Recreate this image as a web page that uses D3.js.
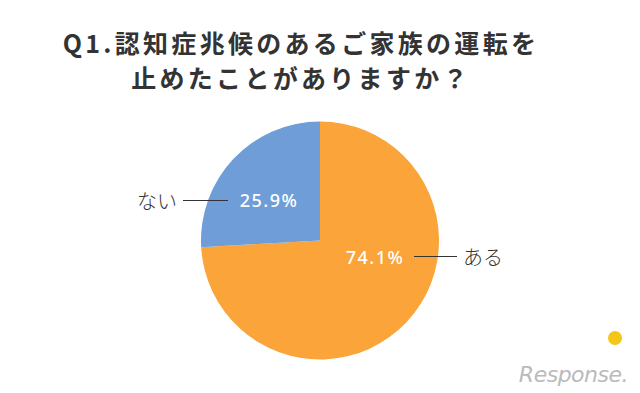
<!DOCTYPE html>
<html><head><meta charset="utf-8">
<script src="https://cdn.jsdelivr.net/npm/d3@7"></script>
<style>body{margin:0;background:#fff}svg{display:block}</style>
</head><body>
<svg id="c" width="640" height="393"></svg>
<script>
const categories = ["ある", "ない"];
const values = [74.1, 25.9];
const valueLabels = ["74.1%", "25.9%"];
const colors = ["#FAA43A", "#6E9DD8"];
const titleLines = ["Q1.認知症兆候のあるご家族の運転を", "止めたことがありますか？"];

const svg = d3.select("#c");
const cx = 320, cy = 240.5, r = 119;

svg.selectAll("text.title").data(titleLines).enter().append("text")
  .attr("x", 301).attr("y", (d,i)=> 53 + i*35)
  .attr("text-anchor","middle")
  .attr("font-family","'Noto Sans CJK JP', sans-serif")
  .attr("font-weight","bold").attr("font-size",25).attr("letter-spacing",3.3)
  .attr("fill","#333").text(d=>d);

const pie = d3.pie().sort(null).value(d=>d)(values);
const arc = d3.arc().innerRadius(0).outerRadius(r);
const g = svg.append("g").attr("transform",`translate(${cx},${cy})`);
g.selectAll("path").data(pie).enter().append("path")
  .attr("d", arc).attr("fill",(d,i)=>colors[i]);

// inner labels
const inner = [[55, 16], [-51, -41]];
g.selectAll("text.v").data(pie).enter().append("text")
  .attr("x",(d,i)=>inner[i][0]).attr("y",(d,i)=>inner[i][1])
  .attr("text-anchor","middle").attr("dominant-baseline","central")
  .attr("font-family","'Noto Sans', sans-serif").attr("font-weight",500)
  .attr("font-size",18).attr("letter-spacing",1.5)
  .attr("fill","#fff").text((d,i)=>valueLabels[i]);

// leader lines and category labels
const leaders = [[94,137,16],[-92,-137,-40]];
g.selectAll("line.l").data(pie).enter().append("line")
  .attr("x1",(d,i)=>leaders[i][0]).attr("x2",(d,i)=>leaders[i][1])
  .attr("y1",(d,i)=>leaders[i][2]).attr("y2",(d,i)=>leaders[i][2])
  .attr("stroke","#333").attr("stroke-width",1);
g.selectAll("text.c").data(pie).enter().append("text")
  .attr("x",(d,i)=> i===0 ? leaders[i][1]+6 : leaders[i][1]-6)
  .attr("y",(d,i)=>leaders[i][2])
  .attr("text-anchor",(d,i)=> i===0 ? "start":"end")
  .attr("dominant-baseline","central")
  .attr("font-family","'Noto Sans CJK JP', sans-serif").attr("font-weight",300)
  .attr("font-size",20).attr("fill","#333").text((d,i)=>categories[i]);

// watermark
svg.append("text").attr("x",628).attr("y",382).attr("text-anchor","end")
  .attr("font-family","'DejaVu Sans', sans-serif").attr("font-size",22)
  .attr("font-style","italic").attr("fill","#aaa").attr("opacity",0.8)
  .attr("letter-spacing",-0.5).text("Response.");
svg.append("circle").attr("cx",615).attr("cy",338).attr("r",7).attr("fill","#F5C518");
</script>
</body></html>
